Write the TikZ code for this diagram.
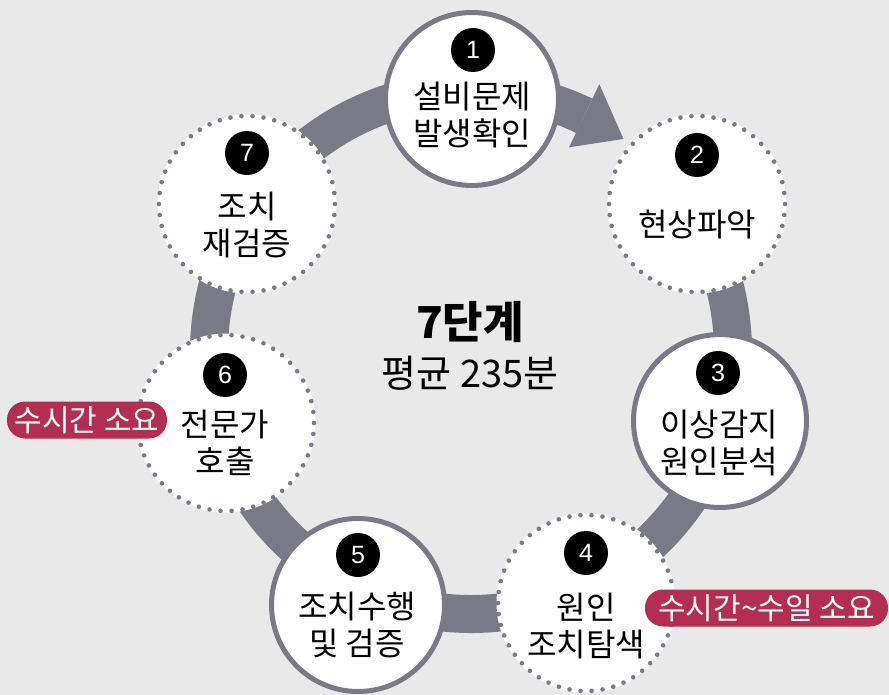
\documentclass[tikz,border=0pt]{standalone}
\usepackage{fontspec}
\setmainfont{Liberation Sans}
\newfontfamily\kr{Noto Sans CJK KR}
\usetikzlibrary{calc}
\definecolor{bg}{RGB}{233,233,233}
\definecolor{ringgray}{RGB}{122,121,134}
\definecolor{pillred}{RGB}{179,46,82}
\begin{document}
\begin{tikzpicture}[x=1pt,y=-1pt,
  ring/.style={draw=ringgray, line width=38pt},
  solidc/.style={circle, fill=white, draw=ringgray, line width=5pt, minimum size=173pt, inner sep=0pt},
  dotc/.style={circle, fill=white, draw=ringgray, line width=4.6pt, line cap=round,
     dash pattern=on 0pt off 11.06pt, minimum size=176pt, inner sep=0pt,
     preaction={draw=white, line width=3pt, solid}},
  numb/.style={circle, fill=black, text=white, minimum size=44pt, inner sep=0pt,
     font=\fontsize{25}{25}\selectfont},
  lbl/.style={align=center, inner sep=0pt, font=\kr\fontsize{32}{37}\selectfont},
  pill/.style={rectangle, rounded corners=18pt, fill=pillred, text=white, inner sep=0pt,
     minimum height=37pt, font=\kr\fontsize{30}{30}\selectfont}
]
\useasboundingbox (0,0) rectangle (889,695);
\fill[bg] (0,0) rectangle (889,695);
\coordinate (C) at (471,352);
% ring with arrow
\draw[ring] ($(C)+(40:262pt)$) arc[start angle=40, end angle=-295.6, radius=262pt];
\fill[ringgray] ($(C)+(64.4:297pt)$) -- ($(C)+(54.4:262pt)$) -- ($(C)+(64.4:227pt)$) -- cycle;
% circles
\node[solidc] (c1) at (472,99) {};
\node[dotc]   (c2) at (697,204) {};
\node[solidc] (c3) at (720,421) {};
\node[dotc]   (c4) at (586,603) {};
\node[solidc] (c5) at (358,605) {};
\node[dotc]   (c6) at (226,423) {};
\node[dotc]   (c7) at (247,204) {};
% number badges
\node[numb] (n1) at (473,50) {1};
\node[numb] (n2) at (697,155) {2};
\node[numb] (n3) at (718,373) {3};
\node[numb] (n4) at (586,553) {4};
\node[numb] (n5) at (358,555) {5};
\node[numb] (n6) at (225,375) {6};
\node[numb] (n7) at (247,153) {7};
% labels
\node[lbl] (t1) at (472,115.5) {설비문제\\발생확인};
\node[lbl] (t2) at (697,225) {현상파악};
\node[lbl] (t3) at (719,443.5) {이상감지\\원인분석};
\node[lbl] (t4) at (586,626) {원인\\조치탐색};
\node[lbl] (t5) at (357,624.5) {조치수행\\및 검증};
\node[lbl] (t6) at (225,443) {전문가\\호출};
\node[lbl] (t7) at (247,225.5) {조치\\재검증};
% center
\node[inner sep=0pt, font=\kr\bfseries\fontsize{44}{44}\selectfont] (title) at (470,322) {7단계};
\node[inner sep=0pt, font=\kr\fontsize{38}{38}\selectfont] (avg) at (470,373) {평균 235분};
% pills
\node[pill, minimum width=160pt] (p1) at (87,420) {수시간 소요};
\node[pill, minimum width=243pt] (p2) at (766.5,608) {수시간\textasciitilde 수일 소요};
\end{tikzpicture}
\end{document}
